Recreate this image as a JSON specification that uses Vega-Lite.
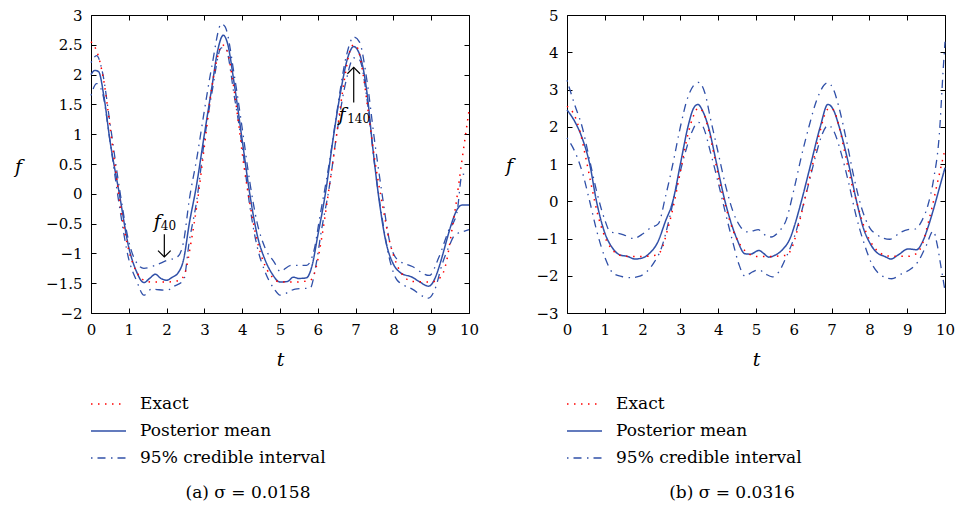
{
"$schema": "https://vega.github.io/schema/vega-lite/v6.json",
"padding": {"left": 13, "top": 7, "right": 5, "bottom": 5},
"background": "#ffffff",
"datasets": {
"E": [{"t":0,"f":2.55},{"t":0.2,"f":2.3},{"t":0.35,"f":1.85},{"t":0.5,"f":1.15},{"t":0.65,"f":0.4},{"t":0.8,"f":-0.3},{"t":1.0,"f":-0.95},{"t":1.2,"f":-1.3},{"t":1.4,"f":-1.45},{"t":1.6,"f":-1.48},{"t":2.0,"f":-1.48},{"t":2.35,"f":-1.45},{"t":2.5,"f":-1.3},{"t":2.65,"f":-0.8},{"t":2.8,"f":-0.2},{"t":3.0,"f":0.8},{"t":3.2,"f":1.8},{"t":3.35,"f":2.3},{"t":3.47,"f":2.5},{"t":3.6,"f":2.4},{"t":3.75,"f":1.9},{"t":3.9,"f":1.2},{"t":4.05,"f":0.45},{"t":4.2,"f":-0.15},{"t":4.4,"f":-0.8},{"t":4.6,"f":-1.2},{"t":4.8,"f":-1.4},{"t":5.0,"f":-1.48},{"t":5.4,"f":-1.48},{"t":5.8,"f":-1.45},{"t":5.95,"f":-1.25},{"t":6.1,"f":-0.75},{"t":6.3,"f":0.1},{"t":6.5,"f":1.0},{"t":6.7,"f":1.9},{"t":6.85,"f":2.4},{"t":6.95,"f":2.5},{"t":7.05,"f":2.45},{"t":7.2,"f":2.0},{"t":7.35,"f":1.3},{"t":7.5,"f":0.6},{"t":7.7,"f":-0.15},{"t":7.9,"f":-0.8},{"t":8.1,"f":-1.2},{"t":8.3,"f":-1.4},{"t":8.5,"f":-1.47},{"t":9.0,"f":-1.48},{"t":9.25,"f":-1.4},{"t":9.4,"f":-1.15},{"t":9.55,"f":-0.6},{"t":9.65,"f":-0.2},{"t":9.8,"f":0.5},{"t":9.9,"f":0.95},{"t":10,"f":1.4}],
"LM": [{"t":0,"f":2.0},{"t":0.1,"f":2.07},{"t":0.2,"f":2.05},{"t":0.35,"f":1.6},{"t":0.5,"f":0.9},{"t":0.75,"f":0.0},{"t":1.0,"f":-0.9},{"t":1.2,"f":-1.3},{"t":1.4,"f":-1.49},{"t":1.55,"f":-1.42},{"t":1.7,"f":-1.35},{"t":1.85,"f":-1.42},{"t":2.0,"f":-1.45},{"t":2.15,"f":-1.4},{"t":2.3,"f":-1.33},{"t":2.45,"f":-1.1},{"t":2.6,"f":-0.5},{"t":2.78,"f":0.1},{"t":3.0,"f":1.0},{"t":3.2,"f":1.8},{"t":3.35,"f":2.4},{"t":3.5,"f":2.66},{"t":3.6,"f":2.55},{"t":3.8,"f":1.8},{"t":4.0,"f":0.9},{"t":4.2,"f":0.0},{"t":4.4,"f":-0.7},{"t":4.6,"f":-1.1},{"t":4.8,"f":-1.35},{"t":5.0,"f":-1.48},{"t":5.2,"f":-1.47},{"t":5.35,"f":-1.4},{"t":5.5,"f":-1.42},{"t":5.7,"f":-1.41},{"t":5.85,"f":-1.2},{"t":6.0,"f":-0.7},{"t":6.2,"f":0.0},{"t":6.4,"f":0.9},{"t":6.6,"f":1.7},{"t":6.8,"f":2.3},{"t":6.95,"f":2.47},{"t":7.1,"f":2.35},{"t":7.3,"f":1.7},{"t":7.45,"f":0.8},{"t":7.6,"f":0.0},{"t":7.8,"f":-0.8},{"t":8.0,"f":-1.18},{"t":8.2,"f":-1.33},{"t":8.5,"f":-1.4},{"t":8.7,"f":-1.48},{"t":8.93,"f":-1.55},{"t":9.81,"f":-0.19},{"t":10,"f":-0.19}],
"LU": [{"t":0,"f":2.2},{"t":0.15,"f":2.32},{"t":0.3,"f":2.05},{"t":0.5,"f":1.2},{"t":0.75,"f":0.1},{"t":1.0,"f":-0.8},{"t":1.2,"f":-1.15},{"t":1.4,"f":-1.25},{"t":1.7,"f":-1.2},{"t":2.0,"f":-1.12},{"t":2.3,"f":-1.05},{"t":2.45,"f":-0.8},{"t":2.6,"f":-0.1},{"t":2.8,"f":0.6},{"t":3.0,"f":1.4},{"t":3.2,"f":2.15},{"t":3.45,"f":2.85},{"t":3.55,"f":2.8},{"t":3.8,"f":1.95},{"t":4.0,"f":1.1},{"t":4.2,"f":0.2},{"t":4.4,"f":-0.5},{"t":4.6,"f":-0.9},{"t":4.85,"f":-1.15},{"t":5.0,"f":-1.3},{"t":5.3,"f":-1.2},{"t":5.7,"f":-1.2},{"t":5.9,"f":-0.95},{"t":6.05,"f":-0.4},{"t":6.3,"f":0.5},{"t":6.5,"f":1.35},{"t":6.75,"f":2.3},{"t":6.95,"f":2.63},{"t":7.1,"f":2.55},{"t":7.3,"f":1.9},{"t":7.5,"f":0.9},{"t":7.7,"f":0.0},{"t":7.9,"f":-0.8},{"t":8.1,"f":-1.1},{"t":8.5,"f":-1.22},{"t":8.95,"f":-1.37},{"t":9.2,"f":-1.07},{"t":9.46,"f":-0.62},{"t":9.68,"f":-0.32},{"t":9.82,"f":0.33},{"t":10,"f":0.3}],
"LL": [{"t":0,"f":1.65},{"t":0.15,"f":1.85},{"t":0.3,"f":1.7},{"t":0.5,"f":0.9},{"t":0.75,"f":-0.2},{"t":1.0,"f":-1.1},{"t":1.2,"f":-1.45},{"t":1.4,"f":-1.7},{"t":1.6,"f":-1.6},{"t":2.0,"f":-1.62},{"t":2.2,"f":-1.55},{"t":2.45,"f":-1.45},{"t":2.6,"f":-0.8},{"t":2.8,"f":-0.1},{"t":3.0,"f":0.9},{"t":3.2,"f":1.7},{"t":3.45,"f":2.45},{"t":3.55,"f":2.45},{"t":3.8,"f":1.6},{"t":4.0,"f":0.8},{"t":4.2,"f":-0.2},{"t":4.4,"f":-0.9},{"t":4.6,"f":-1.3},{"t":4.85,"f":-1.6},{"t":5.0,"f":-1.7},{"t":5.4,"f":-1.6},{"t":5.8,"f":-1.58},{"t":5.95,"f":-1.2},{"t":6.1,"f":-0.6},{"t":6.3,"f":0.1},{"t":6.5,"f":1.0},{"t":6.75,"f":1.9},{"t":6.95,"f":2.28},{"t":7.1,"f":2.25},{"t":7.3,"f":1.6},{"t":7.5,"f":0.5},{"t":7.7,"f":-0.4},{"t":7.9,"f":-1.1},{"t":8.1,"f":-1.45},{"t":8.5,"f":-1.6},{"t":8.93,"f":-1.75},{"t":9.1,"f":-1.6},{"t":9.29,"f":-1.18},{"t":9.46,"f":-0.9},{"t":9.64,"f":-0.68},{"t":9.77,"f":-0.65},{"t":10,"f":-0.6}],
"RM": [{"t":0,"f":2.45},{"t":0.2,"f":2.15},{"t":0.4,"f":1.7},{"t":0.6,"f":1.0},{"t":0.78,"f":0.0},{"t":1.0,"f":-0.85},{"t":1.2,"f":-1.25},{"t":1.4,"f":-1.44},{"t":1.6,"f":-1.48},{"t":1.8,"f":-1.55},{"t":2.0,"f":-1.52},{"t":2.2,"f":-1.38},{"t":2.4,"f":-1.1},{"t":2.6,"f":-0.55},{"t":2.8,"f":0.0},{"t":3.0,"f":1.0},{"t":3.2,"f":2.0},{"t":3.35,"f":2.5},{"t":3.46,"f":2.6},{"t":3.6,"f":2.4},{"t":3.74,"f":2.0},{"t":3.96,"f":1.0},{"t":4.18,"f":0.0},{"t":4.49,"f":-1.0},{"t":4.71,"f":-1.41},{"t":4.85,"f":-1.42},{"t":5.08,"f":-1.32},{"t":5.2,"f":-1.4},{"t":5.34,"f":-1.5},{"t":5.5,"f":-1.45},{"t":5.7,"f":-1.3},{"t":5.9,"f":-1.0},{"t":6.05,"f":-0.55},{"t":6.2,"f":0.0},{"t":6.45,"f":1.0},{"t":6.7,"f":2.0},{"t":6.9,"f":2.6},{"t":7.05,"f":2.45},{"t":7.2,"f":2.0},{"t":7.45,"f":1.0},{"t":7.66,"f":0.0},{"t":7.85,"f":-0.75},{"t":8.0,"f":-1.1},{"t":8.2,"f":-1.38},{"t":8.4,"f":-1.48},{"t":8.57,"f":-1.55},{"t":8.75,"f":-1.45},{"t":9.03,"f":-1.28},{"t":9.25,"f":-1.3},{"t":9.4,"f":-1.1},{"t":9.55,"f":-0.7},{"t":9.7,"f":-0.2},{"t":9.85,"f":0.35},{"t":10,"f":0.9}],
"RU": [{"t":0,"f":3.25},{"t":0.2,"f":2.6},{"t":0.4,"f":2.0},{"t":0.6,"f":1.1},{"t":0.8,"f":0.2},{"t":1.0,"f":-0.5},{"t":1.14,"f":-0.82},{"t":1.3,"f":-0.85},{"t":1.5,"f":-0.9},{"t":1.75,"f":-1.0},{"t":2.0,"f":-0.88},{"t":2.2,"f":-0.72},{"t":2.42,"f":-0.6},{"t":2.6,"f":0.1},{"t":2.8,"f":1.0},{"t":3.0,"f":2.0},{"t":3.2,"f":2.8},{"t":3.48,"f":3.19},{"t":3.65,"f":2.9},{"t":3.8,"f":2.2},{"t":4.0,"f":1.3},{"t":4.2,"f":0.4},{"t":4.4,"f":-0.3},{"t":4.6,"f":-0.7},{"t":4.75,"f":-0.82},{"t":4.9,"f":-0.8},{"t":5.06,"f":-0.76},{"t":5.2,"f":-0.88},{"t":5.4,"f":-0.96},{"t":5.6,"f":-0.82},{"t":5.8,"f":-0.5},{"t":6.0,"f":0.3},{"t":6.2,"f":1.2},{"t":6.4,"f":2.0},{"t":6.6,"f":2.7},{"t":6.9,"f":3.18},{"t":7.05,"f":3.0},{"t":7.2,"f":2.5},{"t":7.4,"f":1.6},{"t":7.6,"f":0.6},{"t":7.8,"f":-0.2},{"t":8.0,"f":-0.7},{"t":8.2,"f":-0.9},{"t":8.54,"f":-1.02},{"t":8.8,"f":-0.85},{"t":9.02,"f":-0.76},{"t":9.2,"f":-0.75},{"t":9.4,"f":-0.5},{"t":9.55,"f":-0.1},{"t":9.7,"f":0.6},{"t":9.85,"f":1.8},{"t":9.95,"f":3.5},{"t":10,"f":4.28}],
"RL": [{"t":0,"f":1.7},{"t":0.2,"f":1.35},{"t":0.4,"f":0.8},{"t":0.6,"f":0.0},{"t":0.8,"f":-0.85},{"t":1.0,"f":-1.5},{"t":1.23,"f":-1.94},{"t":1.45,"f":-2.02},{"t":1.69,"f":-2.05},{"t":1.9,"f":-2.02},{"t":2.1,"f":-1.9},{"t":2.3,"f":-1.65},{"t":2.5,"f":-1.25},{"t":2.7,"f":-0.5},{"t":2.9,"f":0.4},{"t":3.1,"f":1.2},{"t":3.3,"f":1.85},{"t":3.47,"f":2.12},{"t":3.6,"f":2.0},{"t":3.8,"f":1.3},{"t":4.0,"f":0.5},{"t":4.2,"f":-0.35},{"t":4.4,"f":-1.15},{"t":4.55,"f":-1.7},{"t":4.71,"f":-2.01},{"t":4.9,"f":-1.9},{"t":5.08,"f":-1.84},{"t":5.25,"f":-1.95},{"t":5.43,"f":-2.03},{"t":5.6,"f":-1.9},{"t":5.8,"f":-1.5},{"t":6.0,"f":-1.0},{"t":6.2,"f":-0.3},{"t":6.4,"f":0.5},{"t":6.6,"f":1.3},{"t":6.75,"f":1.8},{"t":6.91,"f":2.04},{"t":7.05,"f":1.9},{"t":7.25,"f":1.3},{"t":7.45,"f":0.5},{"t":7.65,"f":-0.4},{"t":7.85,"f":-1.1},{"t":8.05,"f":-1.65},{"t":8.3,"f":-1.98},{"t":8.59,"f":-2.08},{"t":8.85,"f":-1.95},{"t":9.12,"f":-1.8},{"t":9.3,"f":-1.6},{"t":9.5,"f":-1.2},{"t":9.69,"f":-0.8},{"t":9.8,"f":-1.2},{"t":9.9,"f":-1.8},{"t":10,"f":-2.4}]
},
"bounds": "flush",
"spacing": 98,
"resolve": {
  "scale": {"color": "independent", "strokeDash": "independent", "x": "independent", "y": "independent"},
  "legend": {"color": "independent", "strokeDash": "independent"}
},
"hconcat": [
{
  "width": 378, "height": 298,
  "title": {"text": "(a)  σ = 0.0158", "orient": "bottom", "anchor": "middle", "frame": "group", "dx": -32, "offset": 15},
  "encoding": {
    "x": {"field": "t", "type": "quantitative", "scale": {"domain": [0, 10], "nice": false, "zero": false}, "axis": null},
    "y": {"field": "f", "type": "quantitative", "scale": {"domain": [-2, 3], "nice": false, "zero": false}, "axis": null}
  },
  "resolve": {"axis": {"x": "independent", "y": "independent"}},
  "layer": [
    {"data": {"name": "LU"}, "mark": {"type": "line", "interpolate": "monotone", "strokeWidth": 1.3},
     "encoding": {"color": {"datum": "95% credible interval", "scale": {"domain": ["Exact", "Posterior mean", "95% credible interval"], "range": ["#ff0000", "#3050a8", "#3050a8"]}, "legend": {"title": null}},
                  "strokeDash": {"datum": "95% credible interval", "scale": {"domain": ["Exact", "Posterior mean", "95% credible interval"], "range": [[1.5, 5.5], [1, 0], [1.5, 5, 8, 5.5]]}, "legend": {"title": null}}}},
    {"data": {"name": "LL"}, "mark": {"type": "line", "interpolate": "monotone", "strokeWidth": 1.3},
     "encoding": {"color": {"datum": "95% credible interval"}, "strokeDash": {"datum": "95% credible interval"}}},
    {"data": {"name": "LM"}, "mark": {"type": "line", "interpolate": "monotone", "strokeWidth": 1.5},
     "encoding": {
       "x": {"field": "t", "type": "quantitative", "scale": {"domain": [0, 10], "nice": false, "zero": false}, "axis": {"orient": "top", "values": [0,1,2,3,4,5,6,7,8,9,10], "labels": false, "title": null}},
       "y": {"field": "f", "type": "quantitative", "scale": {"domain": [-2, 3], "nice": false, "zero": false}, "axis": {"orient": "right", "values": [-2,-1.5,-1,-0.5,0,0.5,1,1.5,2,2.5,3], "labels": false, "title": null}},
       "color": {"datum": "Posterior mean"}, "strokeDash": {"datum": "Posterior mean"}}},
    {"data": {"name": "E"}, "mark": {"type": "line", "interpolate": "monotone", "strokeWidth": 1.5},
     "encoding": {
       "x": {"field": "t", "type": "quantitative", "scale": {"domain": [0, 10], "nice": false, "zero": false}, "axis": {"orient": "bottom", "values": [0,1,2,3,4,5,6,7,8,9,10], "labelPadding": 14, "title": "t", "titleX": 189, "titleY": 46, "titleAlign": "center", "titleBaseline": "middle"}},
       "y": {"field": "f", "type": "quantitative", "scale": {"domain": [-2, 3], "nice": false, "zero": false}, "axis": {"orient": "left", "values": [-2,-1.5,-1,-0.5,0,0.5,1,1.5,2,2.5,3], "labelPadding": 14, "labelExpr": "replace(format(datum.value, '~g'), '-', '−')", "title": "f", "titleAngle": 0, "titleX": -73, "titleY": 151, "titleAlign": "center", "titleBaseline": "middle"}},
       "color": {"datum": "Exact"}, "strokeDash": {"datum": "Exact"}}},
    {"data": {"values": [{"t": 1.94, "f": -0.68, "f2": -1.06}, {"t": 6.95, "f": 1.53, "f2": 2.12}]},
     "mark": {"type": "rule", "color": "#000000", "strokeWidth": 1.2},
     "encoding": {"y2": {"field": "f2"}}},
    {"data": {"values": [{"t": 1.94, "f": -1.06}]},
     "mark": {"type": "point", "shape": "M-1,-1L0,0L1,-1", "size": 160, "filled": false, "color": "#000000", "strokeWidth": 1.2, "opacity": 1}},
    {"data": {"values": [{"t": 6.95, "f": 2.12}]},
     "mark": {"type": "point", "shape": "M-1,1L0,0L1,1", "size": 160, "filled": false, "color": "#000000", "strokeWidth": 1.2, "opacity": 1}},
    {"data": {"values": [{"t": 1.75, "f": -0.47, "txt": "f"}, {"t": 6.64, "f": 1.32, "txt": "f"}]},
     "mark": {"type": "text", "font": "DejaVu Serif", "fontStyle": "italic", "fontSize": 19, "color": "#000000"},
     "encoding": {"text": {"field": "txt"}}},
    {"data": {"values": [{"t": 2.05, "f": -0.54, "txt": "40"}, {"t": 7.08, "f": 1.25, "txt": "140"}]},
     "mark": {"type": "text", "font": "DejaVu Serif", "fontSize": 12, "color": "#000000"},
     "encoding": {"text": {"field": "txt"}}}
  ]
},
{
  "width": 378, "height": 298,
  "title": {"text": "(b)  σ = 0.0316", "orient": "bottom", "anchor": "middle", "frame": "group", "dx": -24, "offset": 15},
  "encoding": {
    "x": {"field": "t", "type": "quantitative", "scale": {"domain": [0, 10], "nice": false, "zero": false}, "axis": null},
    "y": {"field": "f", "type": "quantitative", "scale": {"domain": [-3, 5], "nice": false, "zero": false}, "axis": null}
  },
  "resolve": {"axis": {"x": "independent", "y": "independent"}},
  "layer": [
    {"data": {"name": "RU"}, "mark": {"type": "line", "interpolate": "monotone", "strokeWidth": 1.3},
     "encoding": {"color": {"datum": "95% credible interval", "scale": {"domain": ["Exact", "Posterior mean", "95% credible interval"], "range": ["#ff0000", "#3050a8", "#3050a8"]}, "legend": {"title": null}},
                  "strokeDash": {"datum": "95% credible interval", "scale": {"domain": ["Exact", "Posterior mean", "95% credible interval"], "range": [[1.5, 5.5], [1, 0], [1.5, 5, 8, 5.5]]}, "legend": {"title": null}}}},
    {"data": {"name": "RL"}, "mark": {"type": "line", "interpolate": "monotone", "strokeWidth": 1.3},
     "encoding": {"color": {"datum": "95% credible interval"}, "strokeDash": {"datum": "95% credible interval"}}},
    {"data": {"name": "RM"}, "mark": {"type": "line", "interpolate": "monotone", "strokeWidth": 1.5},
     "encoding": {
       "x": {"field": "t", "type": "quantitative", "scale": {"domain": [0, 10], "nice": false, "zero": false}, "axis": {"orient": "top", "values": [0,1,2,3,4,5,6,7,8,9,10], "labels": false, "title": null}},
       "y": {"field": "f", "type": "quantitative", "scale": {"domain": [-3, 5], "nice": false, "zero": false}, "axis": {"orient": "right", "values": [-3,-2,-1,0,1,2,3,4,5], "labels": false, "title": null}},
       "color": {"datum": "Posterior mean"}, "strokeDash": {"datum": "Posterior mean"}}},
    {"data": {"name": "E"}, "mark": {"type": "line", "interpolate": "monotone", "strokeWidth": 1.5},
     "encoding": {
       "x": {"field": "t", "type": "quantitative", "scale": {"domain": [0, 10], "nice": false, "zero": false}, "axis": {"orient": "bottom", "values": [0,1,2,3,4,5,6,7,8,9,10], "labelPadding": 14, "title": "t", "titleX": 189, "titleY": 46, "titleAlign": "center", "titleBaseline": "middle"}},
       "y": {"field": "f", "type": "quantitative", "scale": {"domain": [-3, 5], "nice": false, "zero": false}, "axis": {"orient": "left", "values": [-3,-2,-1,0,1,2,3,4,5], "labelPadding": 14, "labelExpr": "replace(format(datum.value, '~g'), '-', '−')", "title": "f", "titleAngle": 0, "titleX": -58, "titleY": 150, "titleAlign": "center", "titleBaseline": "middle"}},
       "color": {"datum": "Exact"}, "strokeDash": {"datum": "Exact"}}}
  ]
}
],
"config": {
  "view": {"stroke": "#000000", "strokeWidth": 1},
  "font": "DejaVu Serif",
  "axis": {"labelFont": "DejaVu Serif", "labelFontSize": 15, "labelColor": "#000000", "tickColor": "#000000", "tickSize": -5, "tickWidth": 1, "domain": false, "grid": false, "labelFlush": false, "labelOverlap": false, "titleFont": "DejaVu Serif", "titleFontSize": 19, "titleFontStyle": "italic", "titleFontWeight": "normal", "titleColor": "#000000"},
  "legend": {"orient": "none", "legendX": -1, "legendY": 377, "symbolType": "stroke", "symbolSize": 1225, "symbolStrokeWidth": 1.5, "clipHeight": 24, "rowPadding": 3, "labelOffset": 13, "labelFont": "DejaVu Serif", "labelFontSize": 17, "labelColor": "#000000", "padding": 0, "labelLimit": 400},
  "title": {"font": "DejaVu Serif", "fontSize": 17, "fontWeight": "normal", "color": "#000000"}
}
}
